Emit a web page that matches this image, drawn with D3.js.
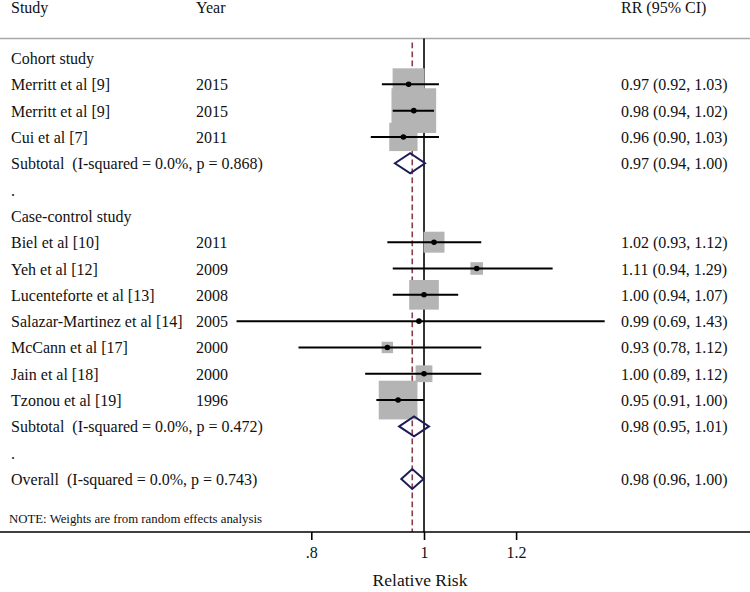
<!DOCTYPE html>
<html>
<head>
<meta charset="utf-8">
<script src="https://cdn.jsdelivr.net/npm/d3@7"></script>
<style>
  html, body { margin: 0; padding: 0; background: #fff; }
  svg { display: block; }
  text { font-family: "Liberation Serif", "Times New Roman", serif; fill: #111; white-space: pre; }
</style>
</head>
<body>
<svg id="chart" width="750" height="592"></svg>
<script>
// ---- Data ----
const cohortStudies = ["Merritt et al [9]", "Merritt et al [9]", "Cui et al [7]"];
const cohortYears = ["2015", "2015", "2011"];
const cohortRR = [0.97, 0.98, 0.96];
const cohortLo = [0.92, 0.94, 0.90];
const cohortHi = [1.03, 1.02, 1.03];
const cohortWeight = [14.2, 27.7, 11.1];

const caseStudies = ["Biel et al [10]", "Yeh et al [12]", "Lucenteforte et al [13]", "Salazar-Martinez et al [14]", "McCann et al [17]", "Jain et al [18]", "Tzonou et al [19]"];
const caseYears = ["2011", "2009", "2008", "2005", "2000", "2000", "1996"];
const caseRR = [1.02, 1.11, 1.00, 0.99, 0.93, 1.00, 0.95];
const caseLo = [0.93, 0.94, 0.94, 0.69, 0.78, 0.89, 0.91];
const caseHi = [1.12, 1.29, 1.07, 1.43, 1.12, 1.12, 1.00];
const caseWeight = [6.1, 2.2, 12.2, 0.1, 1.8, 3.9, 20.8];

const subgroupTitles = ["Cohort study", "Case-control study"];
const subtotalLabels = ["Subtotal  (I-squared = 0.0%, p = 0.868)", "Subtotal  (I-squared = 0.0%, p = 0.472)"];
const subtotalRR = [0.973, 0.9805];
const subtotalLo = [0.944, 0.952];
const subtotalHi = [1.002, 1.0099];

const overallLabel = "Overall  (I-squared = 0.0%, p = 0.743)";
const overallRR = 0.977;
const overallLo = 0.956;
const overallHi = 0.999;

const tickValues = [0.8, 1, 1.2];
const tickLabels = [".8", "1", "1.2"];
const headers = ["Study", "Year", "RR (95% CI)"];
const noteText = "NOTE: Weights are from random effects analysis";
const xTitle = "Relative Risk";

// ---- Build row list ----
const rows = [];
function addGroup(g, names, years, rr, lo, hi, w) {
  rows.push({ type: "title", label: subgroupTitles[g] });
  names.forEach((n, i) => rows.push({ type: "study", label: n, year: years[i], rr: rr[i], lo: lo[i], hi: hi[i], w: w[i] }));
  rows.push({ type: "sub", label: subtotalLabels[g], rr: subtotalRR[g], lo: subtotalLo[g], hi: subtotalHi[g] });
  rows.push({ type: "dot", label: "." });
}
addGroup(0, cohortStudies, cohortYears, cohortRR, cohortLo, cohortHi, cohortWeight);
addGroup(1, caseStudies, caseYears, caseRR, caseLo, caseHi, caseWeight);
rows.push({ type: "sub", label: overallLabel, rr: overallRR, lo: overallLo, hi: overallHi });
rows.forEach((r, i) => r.i = i);

// ---- Scales ----
const svg = d3.select("#chart");
const x = d3.scaleLog().domain([0.8, 1.2]).range([311.3, 516.1]);
const y = d3.scaleLinear().domain([0, rows.length - 1]).range([58, 479]);
const allW = cohortWeight.concat(caseWeight);
const boxSize = d3.scaleSqrt().domain([0, d3.max(allW)]).range([0, 44.7]);
const fmt = v => v.toFixed(2);

const topLineY = 38.5, axisY = 532;
const fs = 16;

// header
const colX = [11, 196, 621];
svg.selectAll("text.hdr").data(headers).join("text")
  .attr("class", "hdr").attr("x", (d, i) => colX[i]).attr("y", 13)
  .style("font-size", fs + "px").text(d => d);

svg.append("line").attr("x1", 0).attr("x2", 750).attr("y1", topLineY).attr("y2", topLineY)
  .attr("stroke", "#a8a8a8").attr("stroke-width", 1.6);

// reference lines
svg.append("line").attr("x1", x(1)).attr("x2", x(1)).attr("y1", topLineY).attr("y2", axisY)
  .attr("stroke", "#000").attr("stroke-width", 1.6);
svg.append("line").attr("x1", x(overallRR)).attr("x2", x(overallRR)).attr("y1", 42.5).attr("y2", axisY)
  .attr("stroke", "#8a3d4a").attr("stroke-width", 1.6).attr("stroke-dasharray", "5.7,3.3");

// boxes
const studyRows = rows.filter(r => r.type === "study");
svg.selectAll("rect.box").data(studyRows).join("rect")
  .attr("class", "box")
  .attr("x", d => x(d.rr) - boxSize(d.w) / 2)
  .attr("y", d => y(d.i) - boxSize(d.w) / 2)
  .attr("width", d => boxSize(d.w)).attr("height", d => boxSize(d.w))
  .attr("fill", "#b4b4b4");

// CIs
svg.selectAll("line.ci").data(studyRows).join("line")
  .attr("class", "ci")
  .attr("x1", d => x(d.lo)).attr("x2", d => x(d.hi))
  .attr("y1", d => y(d.i)).attr("y2", d => y(d.i))
  .attr("stroke", "#000").attr("stroke-width", 2);
svg.selectAll("circle.pt").data(studyRows).join("circle")
  .attr("class", "pt").attr("cx", d => x(d.rr)).attr("cy", d => y(d.i)).attr("r", 2.8)
  .attr("fill", "#000");

// diamonds
const subRows = rows.filter(r => r.type === "sub");
svg.selectAll("path.dia").data(subRows).join("path")
  .attr("class", "dia")
  .attr("d", d => {
    const cy = y(d.i), h = 10;
    return `M${x(d.lo)},${cy}L${x(d.rr)},${cy - h}L${x(d.hi)},${cy}L${x(d.rr)},${cy + h}Z`;
  })
  .attr("fill", "none").attr("stroke", "#1c1c5a").attr("stroke-width", 2);

// row labels
svg.selectAll("text.lab").data(rows).join("text")
  .attr("class", "lab").attr("x", colX[0]).attr("y", d => y(d.i) + 6)
  .style("font-size", fs + "px").text(d => d.label);
svg.selectAll("text.yr").data(studyRows).join("text")
  .attr("class", "yr").attr("x", colX[1]).attr("y", d => y(d.i) + 6)
  .style("font-size", fs + "px").text(d => d.year);
svg.selectAll("text.rr").data(rows.filter(r => r.type === "study" || r.type === "sub")).join("text")
  .attr("class", "rr").attr("x", colX[2]).attr("y", d => y(d.i) + 6)
  .style("font-size", fs + "px").text(d => `${fmt(d.rr)} (${fmt(d.lo)}, ${fmt(d.hi)})`);

// note
svg.append("text").attr("x", 9).attr("y", 523).style("font-size", "12.8px").text(noteText);

// axis
svg.append("line").attr("x1", 0).attr("x2", 750).attr("y1", axisY).attr("y2", axisY)
  .attr("stroke", "#000").attr("stroke-width", 1.6);
const axis = d3.axisBottom(x).tickValues(tickValues).tickSize(8)
  .tickFormat((d, i) => tickLabels[i]);
const ag = svg.append("g").attr("transform", `translate(0,${axisY})`).call(axis);
ag.select(".domain").remove();
ag.selectAll(".tick line").attr("stroke", "#000").attr("stroke-width", 1.6);
ag.selectAll(".tick text").attr("y", 15).attr("dy", "0.71em")
  .style("font-family", '"Liberation Serif", "Times New Roman", serif')
  .style("font-size", fs + "px").attr("fill", "#111");

svg.append("text").attr("x", 420).attr("y", 586).attr("text-anchor", "middle")
  .style("font-size", "17.5px").text(xTitle);
</script>
</body>
</html>
